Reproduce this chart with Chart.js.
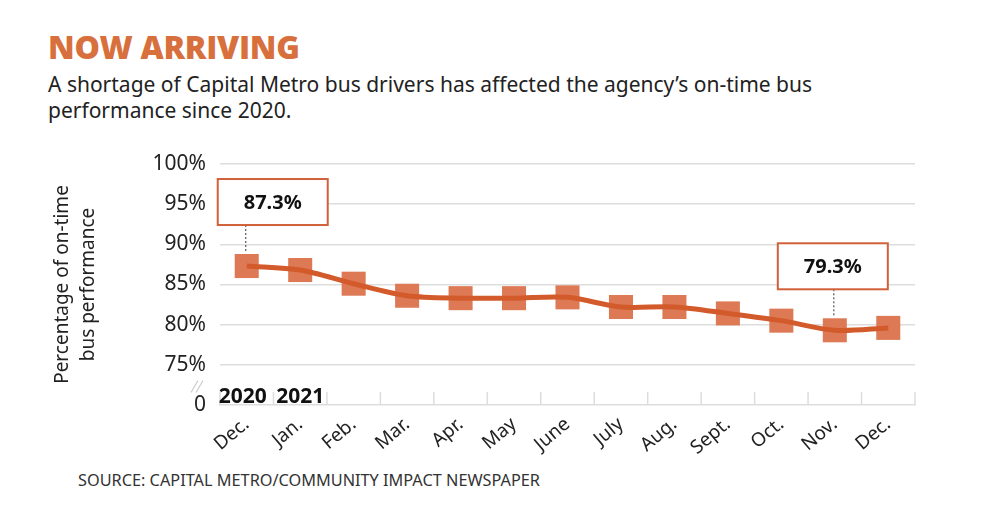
<!DOCTYPE html>
<html>
<head>
<meta charset="utf-8">
<script src="https://cdn.jsdelivr.net/npm/chart.js@4.4.1/dist/chart.umd.min.js"></script>
<style>
  body { margin: 0; width: 1000px; height: 512px; background: #fff; position: relative; overflow: hidden; font-family: "Noto Sans", sans-serif; }
  #title { position: absolute; left: 48px; top: 25px; font-family: "Open Sans", sans-serif; font-weight: 800; font-size: 32px; color: #D8703E; letter-spacing: -0.3px; }
  #subtitle { position: absolute; left: 48px; top: 71px; font-size: 21px; line-height: 26px; color: #222; }
  #source { position: absolute; left: 78px; top: 469px; font-size: 16.3px; color: #333; }
  #wrap { position: absolute; left: 0; top: 130px; width: 1000px; height: 330px; }
</style>
</head>
<body>
<div id="title">NOW ARRIVING</div>
<div id="subtitle">A shortage of Capital Metro bus drivers has affected the agency’s on-time bus<br>performance since 2020.</div>
<div id="source">SOURCE: CAPITAL METRO/COMMUNITY IMPACT NEWSPAPER</div>
<div id="wrap"><canvas id="busChart"></canvas></div>
<script>
//Chart data
const months = ["Dec.", "Jan.", "Feb.", "Mar.", "Apr.", "May", "June", "July", "Aug.", "Sept.", "Oct.", "Nov.", "Dec."];
const onTime = [87.3, 86.8, 85.1, 83.6, 83.3, 83.3, 83.4, 82.2, 82.2, 81.4, 80.5, 79.3, 79.6];
const yearLabels = ["2020", "2021"];
const yTicks = [70, 75, 80, 85, 90, 95, 100];
const calloutIndex = [0, 11];
const calloutText = ["87.3%", "79.3%"];

const orangeLine = "#D35A2B";
const orangeBox = "#DD7A55";

//Extra drawing: axis ticks, year labels, axis break, callouts
const extrasPlugin = {
  id: "extras",
  afterDraw(chart) {
    const ctx = chart.ctx;
    const x = chart.scales.x;
    const y = chart.scales.y;
    const base = y.getPixelForValue(70);
    const step = x.getPixelForValue(1) - x.getPixelForValue(0);
    ctx.save();

    //small ticks between months
    ctx.strokeStyle = "#ddd";
    ctx.lineWidth = 1.5;
    for (let i = 0; i <= months.length; i++) {
      const px = x.getPixelForValue(0) + (i - 0.5) * step;
      ctx.beginPath();
      ctx.moveTo(px, base);
      ctx.lineTo(px, base - 13);
      ctx.stroke();
    }

    //year labels
    ctx.fillStyle = "#111";
    ctx.font = "bold 21px 'Noto Sans'";
    ctx.textAlign = "center";
    ctx.textBaseline = "alphabetic";
    ctx.fillText(yearLabels[0], x.getPixelForValue(0) - 4, base - 2);
    ctx.fillText(yearLabels[1], x.getPixelForValue(1), base - 2);

    //axis break
    const mid = y.getPixelForValue(72.3);
    ctx.strokeStyle = "#ccc";
    ctx.lineWidth = 1.2;
    [0, 5].forEach(d => {
      ctx.beginPath();
      ctx.moveTo(chart.chartArea.left - 29 + d, mid + 6);
      ctx.lineTo(chart.chartArea.left - 22 + d, mid - 6);
      ctx.stroke();
    });

    //callouts
    const meta = chart.getDatasetMeta(1);
    const shifts = [-29, -57];
    calloutIndex.forEach((idx, k) => {
      const pt = meta.data[idx];
      const left = pt.x + shifts[k];
      const top = pt.y - 87;
      const w = 110, h = 46;
      ctx.setLineDash([2, 2]);
      ctx.strokeStyle = "#555";
      ctx.lineWidth = 1.2;
      ctx.beginPath();
      ctx.moveTo(pt.x - 1, top + h);
      ctx.lineTo(pt.x - 1, pt.y - 14);
      ctx.stroke();
      ctx.setLineDash([]);
      ctx.fillStyle = "#fff";
      ctx.fillRect(left, top, w, h);
      ctx.strokeStyle = "#D0613A";
      ctx.lineWidth = 2;
      ctx.strokeRect(left, top, w, h);
      ctx.fillStyle = "#111";
      ctx.font = "bold 20px 'Noto Sans'";
      ctx.textAlign = "center";
      ctx.textBaseline = "middle";
      ctx.fillText(calloutText[k], left + w / 2, top + h / 2 + 1);
    });
    ctx.restore();
  }
};

const busChart = new Chart(document.querySelector("#busChart"), {
  type: "line",
  data: {
    labels: months,
    datasets: [
      {
        label: "boxes",
        data: onTime,
        showLine: false,
        pointStyle: "rect",
        pointRadius: 17,
        pointBorderWidth: 0,
        pointBackgroundColor: orangeBox,
        order: 2
      },
      {
        label: "on-time",
        data: onTime,
        borderColor: orangeLine,
        borderWidth: 5,
        tension: 0.3,
        pointRadius: 0,
        order: 1
      }
    ]
  },
  options: {
    responsive: true,
    maintainAspectRatio: false,
    animation: false,
    layout: { padding: { left: 30, right: 85, top: 34, bottom: 0 } },
    plugins: { legend: { display: false }, tooltip: { enabled: false } },
    scales: {
      x: {
        offset: true,
        grid: { display: false },
        border: { display: true, color: "#ddd", width: 1.5 },
        ticks: {
          color: "#222",
          font: { family: "Noto Sans", size: 19 },
          minRotation: 40,
          maxRotation: 40,
          padding: 0
        },
        afterFit(scale) { scale.height = 55; }
      },
      y: {
        min: 70,
        max: 100,
        afterBuildTicks(scale) { scale.ticks = yTicks.map(v => ({ value: v })); },
        border: { display: false },
        grid: {
          drawTicks: false,
          lineWidth: 1.5,
          color: c => (c.tick && c.tick.value === 70 ? "rgba(0,0,0,0)" : "#ddd")
        },
        ticks: {
          color: "#222",
          padding: 14,
          font: { family: "Noto Sans", size: 21 },
          callback: v => (v === 70 ? "0" : v + "%")
        },
        title: {
          display: true,
          text: ["Percentage of on-time", "bus performance"],
          color: "#222",
          font: { family: "Noto Sans", size: 19, lineHeight: 1.35 },
          padding: { top: 20, bottom: 0 }
        },
        afterFit(scale) { scale.width = 190; }
      }
    }
  },
  plugins: [extrasPlugin]
});
</script>
</body>
</html>
